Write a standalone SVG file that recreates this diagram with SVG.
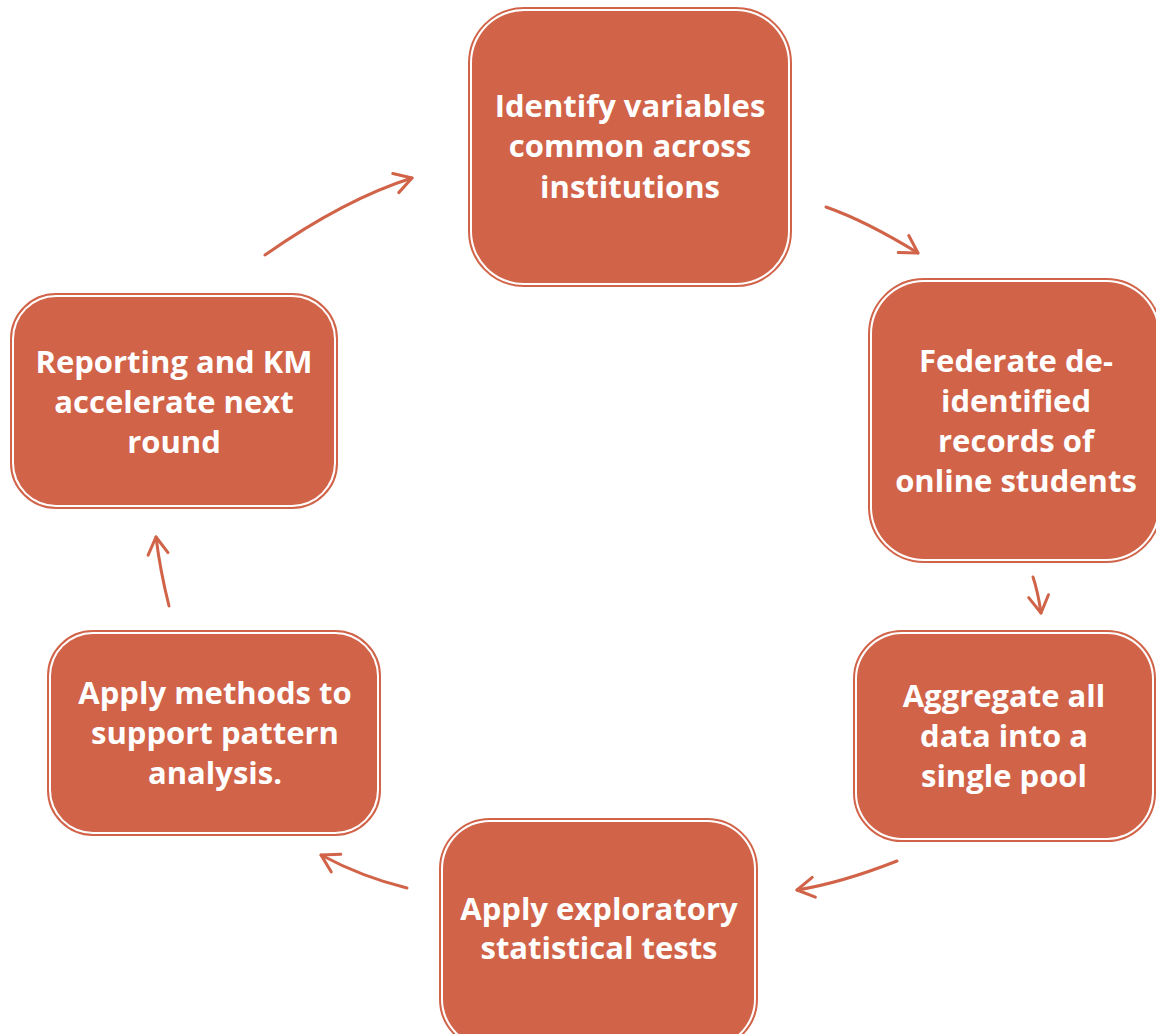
<svg xmlns="http://www.w3.org/2000/svg" width="1156" height="1034" viewBox="0 0 1156 1034">
<style>
.o{fill:none;stroke:#D16349;stroke-width:2}
.f{fill:#D16349}
.t{fill:#ffffff;font-family:"Open Sans","Liberation Sans",sans-serif;font-weight:bold;font-size:31px;text-anchor:middle}
.c{fill:none;stroke:#D16349;stroke-width:3;stroke-linecap:round;marker-end:url(#ah)}
</style>
<defs>
<marker id="ah" markerUnits="userSpaceOnUse" viewBox="-20 -12 22 24" refX="0" refY="0" markerWidth="22" markerHeight="24" orient="auto" overflow="visible">
<path d="M-17,-10 L0,0 L-17,10" fill="none" stroke="#D16349" stroke-width="3" stroke-linecap="round" stroke-linejoin="round"/>
</marker>
</defs>
<rect width="1156" height="1034" fill="#ffffff"/>
<g id="connectors">
<path class="c" d="M265,255 Q345,199 412,178"/>
<path class="c" d="M826,207 Q866,221 918,253"/>
<path class="c" d="M1033,577 Q1038,592 1041,613"/>
<path class="c" d="M897,861 Q841,883 797,890"/>
<path class="c" d="M407,888 Q362,877 321,855"/>
<path class="c" d="M169,606 Q160,570 156,537"/>
</g>
<g id="n1">
<rect class="o" x="469" y="8" width="322" height="278" rx="55"/>
<rect class="f" x="472" y="11" width="316" height="272" rx="52"/>
<text class="t" x="630" y="117">Identify variables</text>
<text class="t" x="630" y="157">common across</text>
<text class="t" x="630" y="198">institutions</text>
</g>
<g id="n2">
<rect class="o" x="869" y="279" width="292" height="283" rx="55"/>
<rect class="f" x="872" y="282" width="286" height="277" rx="52"/>
<text class="t" x="1016" y="372">Federate de-</text>
<text class="t" x="1016" y="412">identified</text>
<text class="t" x="1016" y="452">records of</text>
<text class="t" x="1016" y="492">online students</text>
</g>
<g id="n3">
<rect class="o" x="854" y="631" width="301" height="210" rx="48"/>
<rect class="f" x="857" y="634" width="295" height="204" rx="45"/>
<text class="t" x="1004" y="707">Aggregate all</text>
<text class="t" x="1004" y="747">data into a</text>
<text class="t" x="1004" y="787">single pool</text>
</g>
<g id="n4">
<rect class="o" x="440" y="819" width="317" height="230" rx="50"/>
<rect class="f" x="443" y="822" width="311" height="224" rx="47"/>
<text class="t" x="599" y="920">Apply exploratory</text>
<text class="t" x="599" y="959">statistical tests</text>
</g>
<g id="n5">
<rect class="o" x="48" y="631" width="332" height="204" rx="45"/>
<rect class="f" x="51" y="634" width="326" height="198" rx="42"/>
<text class="t" x="215" y="704">Apply methods to</text>
<text class="t" x="215" y="744">support pattern</text>
<text class="t" x="215" y="784">analysis.</text>
</g>
<g id="n6">
<rect class="o" x="11" y="294" width="326" height="214" rx="45"/>
<rect class="f" x="14" y="297" width="320" height="208" rx="42"/>
<text class="t" x="174" y="373">Reporting and KM</text>
<text class="t" x="174" y="413">accelerate next</text>
<text class="t" x="174" y="453">round</text>
</g>
</svg>
